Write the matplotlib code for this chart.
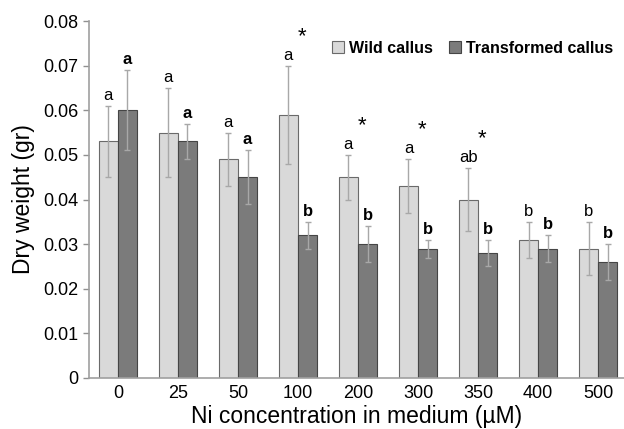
import matplotlib
matplotlib.use('Agg')
import matplotlib.pyplot as plt
import numpy as np

plt.rcParams['font.family'] = ['Liberation Sans', 'DejaVu Sans']

# datos
conc = ['0', '25', '50', '100', '200', '300', '350', '400', '500']
wild = [0.053, 0.055, 0.049, 0.059, 0.045, 0.043, 0.040, 0.031, 0.029]
wild_err = [0.008, 0.010, 0.006, 0.011, 0.005, 0.006, 0.007, 0.004, 0.006]
trans = [0.060, 0.053, 0.045, 0.032, 0.030, 0.029, 0.028, 0.029, 0.026]
trans_err = [0.009, 0.004, 0.006, 0.003, 0.004, 0.002, 0.003, 0.003, 0.004]
wild_let = ['a', 'a', 'a', 'a', 'a', 'a', 'ab', 'b', 'b']
trans_let = ['a', 'a', 'a', 'b', 'b', 'b', 'b', 'b', 'b']
star = [False, False, False, True, True, True, True, False, False]

fig = plt.figure(figsize=(6.24, 4.29), dpi=100)
ax = fig.add_axes([89/624, 51/429, 535/624, 357/429])

x = np.arange(len(conc))
w = 0.32
ax.bar(x - w/2, wild, w, color='#d9d9d9', edgecolor='#6a6a6a', linewidth=0.8,
       label='Wild callus', zorder=2)
ax.bar(x + w/2, trans, w, color='#7b7b7b', edgecolor='#454545', linewidth=0.8,
       label='Transformed callus', zorder=2)
ax.errorbar(x - w/2, wild, yerr=wild_err, fmt='none', ecolor='#a8a8a8',
            elinewidth=1, capsize=2, capthick=1, zorder=3)
ax.errorbar(x + w/2, trans, yerr=trans_err, fmt='none', ecolor='#a8a8a8',
            elinewidth=1, capsize=2, capthick=1, zorder=3)

# letras
for i in range(len(conc)):
    ax.annotate(wild_let[i], (x[i] - w/2, wild[i] + wild_err[i]),
                xytext=(0, 7.5), textcoords='offset points',
                ha='center', va='center', fontsize=12)
    ax.annotate(trans_let[i], (x[i] + w/2, trans[i] + trans_err[i]),
                xytext=(0, 7.5), textcoords='offset points',
                ha='center', va='center', fontsize=12, fontweight='bold')
    if star[i]:
        ax.annotate('*', (x[i], wild[i] + wild_err[i]),
                    xytext=(3, 21), textcoords='offset points',
                    ha='center', va='center', fontsize=16)

ax.set_ylim(0, 0.08)
ax.set_xlim(-0.48, 8.43)
ax.set_yticks(np.arange(0, 0.081, 0.01))
ax.set_yticklabels(['0'] + ['%.2f' % v for v in np.arange(0.01, 0.081, 0.01)])
ax.set_xticks(x)
ax.set_xticklabels(conc)
ax.tick_params(axis='y', labelsize=13, length=4, color='#909090', width=1)
ax.tick_params(axis='x', labelsize=13, length=0, pad=5)
for s in ['top', 'right']:
    ax.spines[s].set_visible(False)
for s in ['left', 'bottom']:
    ax.spines[s].set_color('#a0a0a0')
    ax.spines[s].set_linewidth(1.2)

ax.set_xlabel('Ni concentration in medium (µM)', fontsize=16.5, labelpad=2)
ax.set_ylabel('Dry weight (gr)', fontsize=16.5, labelpad=6)

leg = ax.legend(ncol=2, loc='center left', bbox_to_anchor=(0.455, 0.924),
                frameon=False, prop={'weight': 'bold', 'size': 11.5},
                handlelength=0.75, handleheight=0.75, handletextpad=0.3,
                columnspacing=1.0, borderpad=0, borderaxespad=0)

plt.savefig('out.png', dpi=100)
